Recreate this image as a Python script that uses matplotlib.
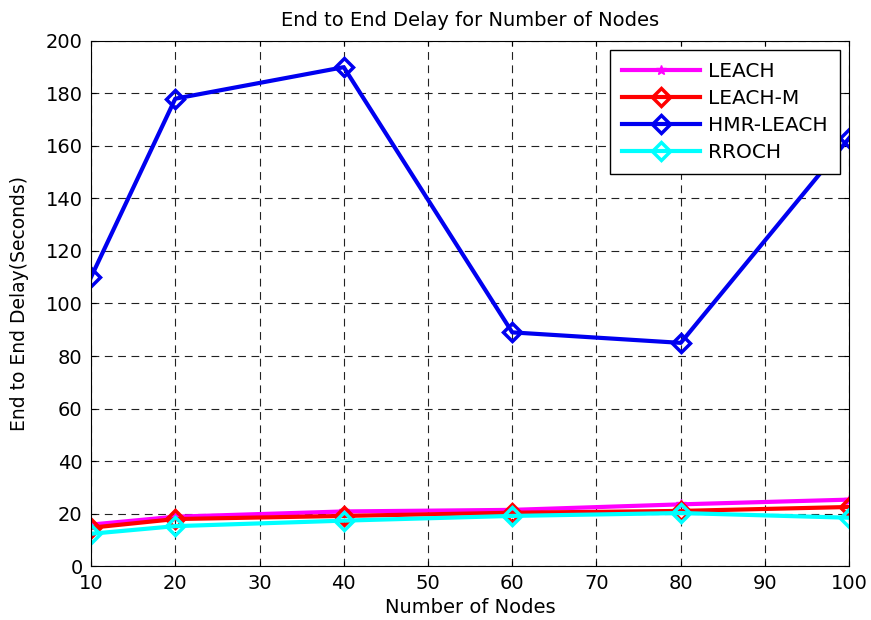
import matplotlib.pyplot as plt
from matplotlib import rcParams

rcParams['font.family'] = 'DejaVu Sans'
rcParams['font.size'] = 14

# Data
nodes = [10, 20, 40, 60, 80, 100]
leach = [15.8, 18.8, 20.8, 21.4, 23.5, 25.3]
leach_m = [14.6, 17.9, 19.1, 20.3, 21.0, 22.5]
hmr_leach = [110, 178, 190, 89, 85, 163]
rroch = [12.3, 15.2, 17.3, 19.1, 20.2, 18.4]

fig = plt.figure(figsize=(8.71, 6.2), dpi=100)
ax = fig.add_axes([0.1045, 0.087, 0.8705, 0.847])

ax.plot(nodes, leach, color='magenta', lw=3, marker='*', ms=7, label='LEACH')
ax.plot(nodes, leach_m, color='red', lw=3, marker='D', ms=9, mfc='none', mew=2.5, label='LEACH-M')
ax.plot(nodes, hmr_leach, color='#0000f0', lw=3, marker='D', ms=9, mfc='none', mew=2.5, label='HMR-LEACH')
ax.plot(nodes, rroch, color='cyan', lw=3, marker='D', ms=9, mfc='none', mew=2.5, label='RROCH')

ax.set_xlim(10, 100)
ax.set_ylim(0, 200)
ax.set_xticks(range(10, 101, 10))
ax.set_yticks(range(0, 201, 20))
ax.tick_params(direction='in', top=True, right=True, labelsize=14, pad=6)
ax.grid(True, color='#222222', linestyle=(0, (7, 5)), lw=0.8)

ax.set_title('End to End Delay for Number of Nodes', fontsize=14, pad=11)
ax.set_xlabel('Number of Nodes', fontsize=14, labelpad=3)
ax.set_ylabel('End to End Delay(Seconds)', fontsize=13.5, labelpad=12)

leg = ax.legend(loc='upper right', fontsize=14.5, fancybox=False, framealpha=1,
                edgecolor='black', handlelength=3.9, labelspacing=0.4,
                handletextpad=0.4, borderpad=0.6, borderaxespad=0.45)
leg.get_frame().set_linewidth(1)

plt.savefig('out.png')
